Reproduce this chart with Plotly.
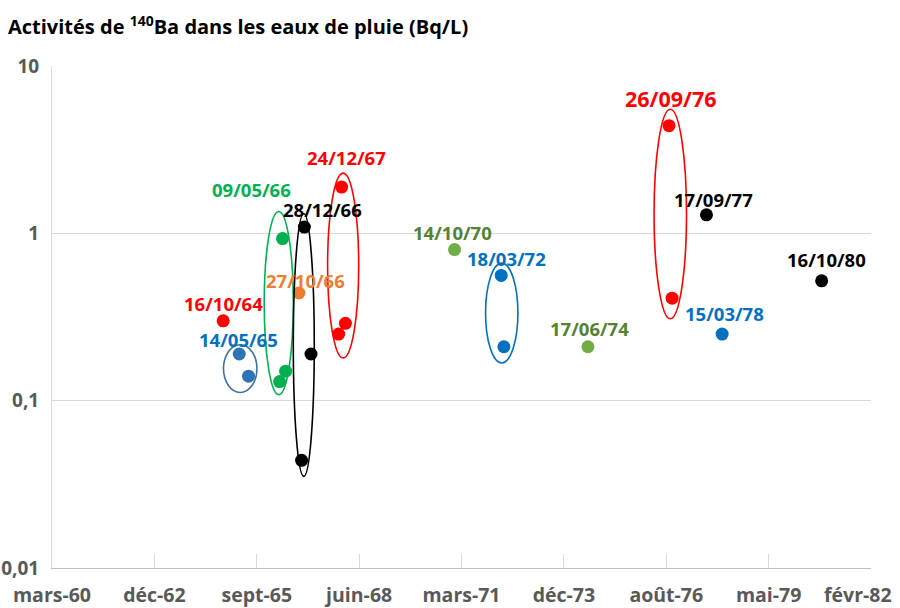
import math
from datetime import date, timedelta
import plotly.graph_objects as go

# ---- data ----
groups = ["16/10/64", "14/05/65", "09/05/66", "27/10/66", "28/12/66", "24/12/67",
          "14/10/70", "18/03/72", "17/06/74", "26/09/76", "17/09/77", "15/03/78", "16/10/80"]
group_dates = [
    ["1964-10-22"],
    ["1965-03-28", "1965-06-27"],
    ["1966-05-25", "1966-06-24", "1966-04-26"],
    ["1966-11-01"],
    ["1966-12-24", "1967-02-27", "1966-11-27"],
    ["1967-12-23", "1968-01-29", "1967-11-24"],
    ["1970-12-30"],
    ["1972-03-30", "1972-04-25"],
    ["1974-07-25"],
    ["1976-09-24", "1976-10-24"],
    ["1977-09-25"],
    ["1978-02-25"],
    ["1980-10-24"],
]
group_values = [
    [0.30],
    [0.19, 0.14],
    [0.93, 0.15, 0.13],
    [0.44],
    [1.09, 0.19, 0.044],
    [1.89, 0.29, 0.25],
    [0.80],
    [0.56, 0.21],
    [0.21],
    [4.4, 0.41],
    [1.29],
    [0.25],
    [0.52],
]
# circled groups: name -> (date start, date end, low, high)
ellipses = {
    "14/05/65": ("1964-10-25", "1965-09-17", 0.112, 0.216),
    "09/05/66": ("1965-11-27", "1966-09-07", 0.1086, 1.35),
    "28/12/66": ("1966-09-07", "1967-03-31", 0.0353, 1.31),
    "24/12/67": ("1967-08-08", "1968-06-07", 0.18, 2.29),
    "18/03/72": ("1971-10-29", "1972-09-09", 0.168, 0.664),
    "26/09/76": ("1976-05-01", "1977-03-14", 0.309, 5.51),
}
tick_labels = ["mars-60", "déc-62", "sept-65", "juin-68", "mars-71",
               "déc-73", "août-76", "mai-79", "févr-82"]
y_ticks = [0.01, 0.1, 1, 10]
y_tick_labels = ["0,01", "0,1", "1", "10"]

# ---- styles ----
RED = "#FF0000"
BLUE = "#0070C0"
STEEL = "#2E75B6"
GREEN = "#00B050"
OLIVE_PT = "#70AD47"
OLIVE_TX = "#548235"
ORANGE = "#ED7D31"
BLACK = "#000000"
GREY_TXT = "#595959"
point_colors = [RED, STEEL, GREEN, ORANGE, BLACK, RED, OLIVE_PT, BLUE, OLIVE_PT, RED, BLACK, BLUE, BLACK]
label_colors = [RED, BLUE, GREEN, ORANGE, BLACK, RED, OLIVE_TX, BLUE, OLIVE_TX, RED, BLACK, BLUE, BLACK]
ellipse_colors = {"14/05/65": "#41719C", "09/05/66": GREEN, "28/12/66": BLACK,
                  "24/12/67": RED, "18/03/72": BLUE, "26/09/76": RED}
# label pixel offsets relative to first point of group
label_shift = [(0, 17), (-1, 15), (-31, 49), (7, 13), (18, 18), (5, 30), (-2, 17),
               (5, 17), (2, 18), (2, 27), (7, 15), (2, 21), (5, 21)]
label_size = [18.5] * 13
label_size[9] = 21.5

FONT = "Open Sans"
TICK_FONT = dict(family=FONT, size=19.5, color=GREY_TXT, weight="bold")
YTICK_FONT = dict(family=FONT, size=19, color=GREY_TXT, weight="bold")
fig = go.Figure()

for g, ds, vs, c in zip(groups, group_dates, group_values, point_colors):
    fig.add_trace(go.Scatter(x=ds, y=vs, mode="markers", name=g,
                             marker=dict(size=13, color=c), showlegend=False,
                             hoverinfo="x+y"))

for g, (x0, x1, y0, y1) in ellipses.items():
    fig.add_shape(type="circle", xref="x", yref="y", x0=x0, x1=x1, y0=y0, y1=y1,
                  line=dict(color=ellipse_colors[g], width=1.6), layer="above")

for i, g in enumerate(groups):
    fig.add_annotation(x=group_dates[i][0], y=math.log10(group_values[i][0]),
                       text=g, showarrow=False,
                       xshift=label_shift[i][0], yshift=label_shift[i][1],
                       font=dict(family=FONT, size=label_size[i], color=label_colors[i], weight="bold"))

start = date(1960, 3, 25)
tick_vals = [(start + timedelta(days=1000 * k)).isoformat() for k in range(len(tick_labels))]
x_end = (start + timedelta(days=1000 * (len(tick_labels) - 1), hours=6)).isoformat()

# last tick label is pulled inside the page edge (as in the original)
fig.add_annotation(x=tick_vals[-1], xref="x", y=0, yref="paper",
                   text=tick_labels[-1], showarrow=False,
                   xanchor="right", xshift=22, yanchor="middle", yshift=-26,
                   borderpad=0, font=TICK_FONT)

W, H = 900, 608
fig.update_layout(
    width=W, height=H,
    margin=dict(l=52, r=29, t=66, b=40),
    paper_bgcolor="white", plot_bgcolor="white",
    title=dict(text="Activités de <sup>140</sup>Ba dans les eaux de pluie (Bq/L)",
               x=8 / W, xanchor="left", xref="container",
               y=1 - 27 / H, yanchor="middle", yref="container",
               pad=dict(l=0, r=0, t=0, b=0),
               font=dict(family=FONT, size=20, color="black", weight="bold")),
    xaxis=dict(type="date", range=[tick_vals[0], x_end], automargin=False,
               tickmode="array", tickvals=tick_vals,
               ticktext=tick_labels[:-1] + [""],
               showgrid=False, showline=True, linecolor="#BFBFBF", linewidth=1,
               ticks="inside", ticklen=14, tickcolor="#D9D9D9", tickwidth=1,
               ticklabelstandoff=10, ticklabeloverflow="allow",
               tickfont=TICK_FONT, zeroline=False),
    yaxis=dict(type="log", range=[-2, 1], tickmode="array", automargin=False,
               tickvals=y_ticks, ticktext=y_tick_labels,
               showgrid=True, gridcolor="#D9D9D9", gridwidth=1,
               showline=True, linecolor="#D9D9D9", linewidth=1,
               ticks="", ticklabelstandoff=8, ticklabeloverflow="allow",
               tickfont=YTICK_FONT, zeroline=False),
)

fig.write_html(
    "out.html",
    config={"displayModeBar": False},
    post_script="document.body.style.margin='0';document.body.style.overflow='hidden';",
)
